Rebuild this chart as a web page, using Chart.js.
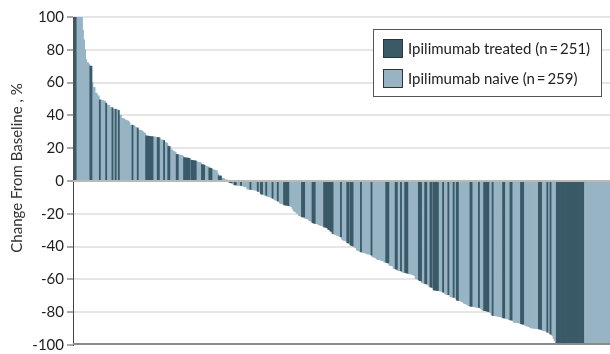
<!DOCTYPE html>
<html>
<head>
<meta charset="utf-8">
<title>Change From Baseline waterfall</title>
<script src="https://cdn.jsdelivr.net/npm/chart.js@4.4.1/dist/chart.umd.min.js"></script>
<style>
  html, body { margin: 0; padding: 0; background: #ffffff; }
  canvas { display: block; }
</style>
</head>
<body>
<canvas id="waterfall" width="610" height="354"></canvas>
<script>
// Best change from baseline (%) per patient, sorted from largest increase to largest decrease
const changePct = [
  100, 100, 100, 100, 100, 100, 100, 100, 100, 92, 86, 80, 74, 72, 72, 71, 70, 70, 60, 57, 57, 53.5, 53.5, 52, 51.8, 49.4, 49.4, 49.2, 49, 48.8,
  48.5, 47.4, 46.3, 46.2, 46, 44.9, 44.8, 44.6, 43.9, 43.8, 43.7, 43.5, 43.3, 43, 40.2, 40, 38.2, 38, 37.8, 37.2, 37, 36.8, 36.5, 35.8, 34.1, 34, 34, 33.8, 33.5, 32.7,
  32.5, 32.3, 31, 31, 30.8, 30.5, 30, 29.5, 29, 27.5, 27.4, 27.3, 27.2, 27.1, 27, 27, 27, 26.8, 26.7, 26.5, 26.5, 26.4, 26.2, 25, 25, 24.8, 24.7, 23.5, 23.3, 23,
  21.2, 21, 20.8, 19, 18.8, 18, 17.8, 17.5, 16.2, 16, 16, 15.8, 15.6, 15.4, 15.2, 14.2, 14.1, 14, 14, 13.9, 13.8, 13.5, 12.6, 12.5, 12.4, 12.3, 12.2, 12, 11.4, 11.3,
  11.2, 11, 10, 9.8, 9.7, 9.5, 8.9, 8.8, 8.6, 7.9, 7.8, 7.6, 6.8, 6.7, 6.6, 6.5, 6.2, 4.7, 3.2, 3, 2.9, 1.8, 1.6, 1.4, 0.6, 0.4, 0.2, 0, -0.8, -1,
  -1.1, -1.4, -2, -2.3, -2.4, -2.5, -2.6, -2.6, -2.6, -2.7, -2.8, -3, -3.4, -3.5, -3.6, -4.8, -5, -5, -5.1, -5.2, -5.3, -5.4, -5.4, -5.5, -5.6, -6.3, -6.5, -6.7, -7.8, -8,
  -8.2, -8.5, -8.6, -8.7, -9.4, -9.5, -9.6, -9.8, -10, -10.5, -10.7, -11.4, -11.6, -11.8, -12.2, -12.5, -13.5, -13.7, -13.8, -14, -14.5, -14.6, -14.7, -14.8, -15, -15.2, -15.3, -15.5, -16.7, -18,
  -18.5, -18.8, -19.6, -19.8, -21, -21.2, -21.4, -21.8, -21.9, -22, -22.7, -22.9, -23, -23.3, -24.2, -24.4, -24.6, -25.4, -25.6, -25.8, -26, -26, -26.2, -26.5, -27, -27, -27.2, -27.5, -28, -28.1,
  -28.3, -28.6, -29.5, -29.7, -30.5, -30.7, -32, -32.3, -32.5, -32.7, -33, -33.3, -33.6, -33.8, -34, -35.5, -36, -36.1, -36.3, -36.6, -37.6, -37.8, -38, -39, -39.3, -39.5, -40, -40.3, -40.6, -42,
  -42.3, -42.5, -43, -43.2, -43.4, -43.5, -43.6, -43.8, -44.2, -44.4, -44.5, -44.6, -44.8, -45.2, -46.2, -46.4, -46.6, -46.8, -47.6, -47.8, -48, -48, -48.2, -48.4, -48.6, -49.3, -49.5, -49.6, -49.8, -50,
  -51.3, -51.5, -51.6, -51.8, -53.2, -53.5, -53.6, -53.8, -54.4, -54.6, -54.7, -54.8, -55.4, -55.6, -55.7, -55.8, -56, -56.2, -56.5, -56.6, -56.6, -56.8, -57, -57.3, -57.8, -59.5, -59.7, -59.9, -60.4, -60.7,
  -60.9, -62, -62.2, -62.3, -62.5, -62.7, -62.9, -63.5, -64.4, -64.6, -64.8, -65, -66.4, -66.5, -66.6, -66.7, -66.8, -66.9, -67, -67.2, -67.5, -67.8, -68, -68.8, -69, -69.2, -69.3, -69.5, -70.5, -70.7,
  -70.8, -70.9, -71, -71.5, -72.6, -72.8, -72.9, -73, -73.2, -73.5, -74, -74.6, -74.8, -75, -75.3, -76, -76.2, -76.3, -76.4, -76.5, -76.6, -76.7, -76.8, -77, -77, -77.1, -77.3, -77.8, -78.5, -78.8,
  -79, -79, -79.2, -79.4, -79.6, -80, -80.2, -81.5, -82, -82.1, -82.1, -82.2, -82.3, -82.4, -82.5, -82.7, -82.9, -83.2, -83.4, -83.5, -83.6, -83.8, -84, -84.3, -84.5, -84.7, -84.8, -85, -86, -86.2,
  -86.2, -86.3, -86.4, -86.5, -86.7, -87, -87.2, -87.3, -87.5, -88, -88.3, -88.4, -88.6, -88.8, -89.4, -89.6, -89.7, -89.7, -89.8, -89.9, -90, -90.1, -90.2, -90.3, -90.4, -91, -91.2, -91.3, -91.4, -91.6,
  -92.2, -92.4, -92.8, -93.4, -93.8, -94.4, -96, -97.5, -98.5, -100, -100, -100, -100, -100, -100, -100, -100, -100, -100, -100, -100, -100, -100, -100, -100, -100, -100, -100, -100, -100,
  -100, -100, -100, -100, -100, -100, -100, -100, -100, -100, -100, -100, -100, -100, -100, -100, -100, -100, -100, -100, -100, -100, -100, -100, -100, -100, -100, -100, -100, -100
];

// Cohort of each patient above: 1 = ipilimumab treated, 0 = ipilimumab naive
const cohort = [
  1,1,1,0,0,0,0,0,0,0, 0,0,0,0,0,0,1,1,0,0, 0,0,0,0,0,1,0,0,0,0,
  0,1,0,0,0,0,0,1,0,0, 1,0,0,1,0,0,0,0,0,0, 0,0,0,0,0,0,1,0,0,0,
  0,1,0,0,0,0,0,0,0,1, 1,1,1,1,1,1,0,0,0,0, 1,1,0,0,0,0,1,0,0,0,
  1,1,0,0,0,0,0,0,1,1, 0,0,0,0,0,1,1,1,1,1, 1,0,1,1,1,1,1,0,0,0,
  0,0,1,1,1,0,0,0,0,1, 1,1,0,0,0,0,0,0,1,1, 1,0,0,0,0,0,0,0,1,1,
  1,0,0,1,1,0,0,0,0,1, 0,0,0,0,0,0,0,0,1,0, 0,0,0,0,0,1,0,0,1,1,
  0,0,0,1,0,0,0,0,0,1, 0,0,0,0,1,0,0,0,0,0, 1,1,1,1,1,0,0,0,0,0,
  0,0,0,0,0,0,0,1,1,1, 0,0,0,0,0,0,0,1,1,1, 0,0,0,0,0,0,0,0,1,1,
  1,1,1,1,1,1,1,0,0,0, 0,0,0,0,1,0,0,0,0,0, 1,1,0,1,1,1,0,0,0,0,
  0,0,0,1,0,0,0,0,0,0, 0,0,0,1,0,0,0,0,0,0, 0,0,0,0,0,0,0,1,1,1,
  0,0,0,0,0,0,1,1,0,0, 0,1,0,0,0,1,1,1,0,0, 0,0,0,0,0,0,0,0,1,1,
  1,0,0,0,1,1,0,0,0,1, 1,0,1,1,1,1,1,0,0,0, 0,1,0,0,0,0,1,0,0,0,
  0,1,0,0,1,1,0,0,0,0, 0,0,0,0,0,0,0,1,1,0, 0,0,0,0,0,1,0,0,0,0,
  1,1,1,1,1,0,0,0,1,0, 0,0,0,0,0,0,0,0,1,1, 0,0,0,0,0,1,1,0,0,0,
  0,0,0,0,0,1,1,1,0,0, 0,0,0,0,0,0,0,0,0,0, 0,0,1,1,1,0,0,0,0,0,
  1,0,0,1,0,0,0,0,0,1, 1,1,1,1,1,1,1,1,1,1, 1,1,1,1,1,1,1,1,1,1,
  1,1,1,1,1,0,0,0,0,0, 0,0,0,0,0,0,0,0,0,0, 0,0,0,0,0,0,0,0,0,0
];

const seriesNames = ['Ipilimumab treated (n\u2009=\u2009251)', 'Ipilimumab naive (n\u2009=\u2009259)'];
const yTicks = [100, 80, 60, 40, 20, 0, -20, -40, -60, -80, -100];
const yTitle = 'Change From Baseline , %';

const TREATED = '#3a5a67';
const NAIVE = '#97b4c4';
const FONT = 'Lato, "Open Sans", sans-serif';

const patientIds = changePct.map((_, i) => i + 1);
const treatedData = changePct.map((v, i) => (cohort[i] === 1 ? v : null));
const naiveData = changePct.map((v, i) => (cohort[i] === 0 ? v : null));

// Zero reference line, bottom frame, rotated axis title and the boxed legend
const decorations = {
  id: 'decorations',
  afterDatasetsDraw(chart) {
    const { ctx, chartArea: a, scales: { y } } = chart;
    ctx.save();
    const y0 = Math.round(y.getPixelForValue(0));
    ctx.strokeStyle = '#b9b9b9';
    ctx.lineWidth = 2;
    ctx.beginPath();
    ctx.moveTo(a.left, y0);
    ctx.lineTo(a.right, y0);
    ctx.stroke();

    ctx.strokeStyle = '#8a8a8a';
    ctx.lineWidth = 2;
    ctx.beginPath();
    ctx.moveTo(a.left, a.bottom - 1);
    ctx.lineTo(a.right, a.bottom - 1);
    ctx.stroke();
    ctx.restore();
  },
  afterDraw(chart) {
    const { ctx } = chart;
    ctx.save();
    // axis title
    ctx.translate(17, 168);
    ctx.rotate(-Math.PI / 2);
    ctx.fillStyle = '#333333';
    ctx.font = '15px ' + FONT;
    ctx.textAlign = 'center';
    ctx.textBaseline = 'middle';
    ctx.fillText(yTitle, 0, 0);
    ctx.restore();

    // legend box
    ctx.save();
    const bx = 373.5, by = 29.5, bw = 228, bh = 67;
    ctx.fillStyle = '#ffffff';
    ctx.fillRect(bx, by, bw, bh);
    ctx.strokeStyle = '#555555';
    ctx.lineWidth = 1;
    ctx.strokeRect(bx, by, bw, bh);
    const colors = [TREATED, NAIVE];
    const rows = [48.5, 78.5];
    ctx.font = '15px ' + FONT;
    ctx.textBaseline = 'middle';
    ctx.textAlign = 'left';
    seriesNames.forEach((name, k) => {
      ctx.fillStyle = colors[k];
      ctx.fillRect(383.5, rows[k] - 9, 19, 18);
      ctx.strokeStyle = '#333333';
      ctx.strokeRect(383.5, rows[k] - 9, 19, 18);
      ctx.fillStyle = '#222222';
      ctx.fillText(name, 408, rows[k] + 0.5);
    });
    ctx.restore();
  }
};

new Chart(document.getElementById('waterfall'), {
  type: 'bar',
  data: {
    labels: patientIds,
    datasets: [
      { label: seriesNames[0], data: treatedData, backgroundColor: TREATED },
      { label: seriesNames[1], data: naiveData, backgroundColor: NAIVE }
    ]
  },
  options: {
    responsive: false,
    animation: false,
    devicePixelRatio: 1,
    layout: { padding: { top: 17, right: 0, bottom: 9, left: 0 } },
    datasets: {
      bar: {
        grouped: false,
        categoryPercentage: 1,
        barPercentage: 1,
        borderWidth: 0,
        inflateAmount: 0.4
      }
    },
    plugins: {
      legend: { display: false },
      tooltip: { enabled: false }
    },
    scales: {
      x: { display: false, offset: true },
      y: {
        min: -100,
        max: 100,
        afterBuildTicks(scale) { scale.ticks = yTicks.map(v => ({ value: v })); },
        afterFit(scale) { scale.width = 73; scale.paddingBottom = 0; },
        ticks: {
          color: '#1e1e1e',
          padding: 3,
          font: { family: FONT, size: 15 }
        },
        grid: {
          color: ctx => (ctx.tick && (ctx.tick.value === 0 || ctx.tick.value === -100) ? 'rgba(0,0,0,0)' : '#e6e6e6'),
          lineWidth: 2,
          tickColor: '#555555',
          tickLength: 6,
          tickWidth: 1
        },
        border: { display: true, color: '#444444', width: 1 }
      }
    }
  },
  plugins: [decorations]
});
</script>
</body>
</html>
